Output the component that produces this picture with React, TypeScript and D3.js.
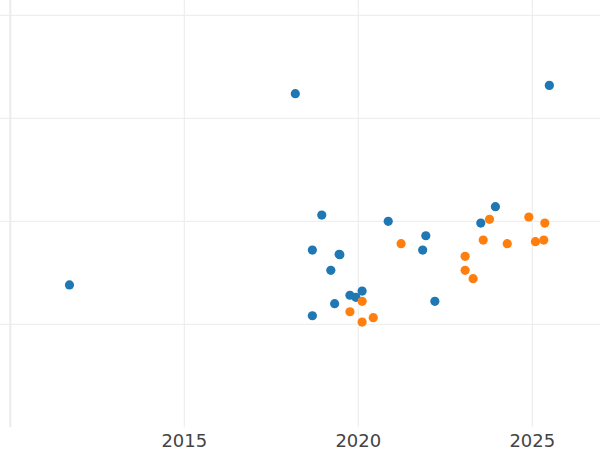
import React from "react";
import * as d3 from "d3";

const xTicks = [2010, 2015, 2020, 2025];
const xTickLabels = ["", "2015", "2020", "2025"];
const yTicks = [1, 2, 3, 4];

const blueX = [2011.70, 2018.19, 2025.49, 2018.95, 2018.68, 2019.45, 2019.47, 2019.21, 2018.68, 2019.32, 2019.76, 2019.93, 2020.11, 2020.86, 2021.94, 2021.85, 2022.20, 2023.52, 2023.94];
const blueY = [1.382, 3.239, 3.320, 2.061, 1.721, 1.680, 1.676, 1.524, 1.083, 1.200, 1.282, 1.262, 1.323, 2.000, 1.860, 1.721, 1.223, 1.983, 2.142];

const orangeX = [2021.23, 2019.76, 2020.11, 2020.11, 2020.43, 2023.07, 2023.07, 2023.30, 2023.59, 2023.77, 2024.28, 2024.90, 2025.36, 2025.09, 2025.33];
const orangeY = [1.783, 1.122, 1.223, 1.022, 1.064, 1.660, 1.524, 1.443, 1.818, 2.019, 1.783, 2.042, 1.983, 1.802, 1.818];

const W = 600;
const H = 450;

export default function App() {
  const x = d3.scaleLinear().domain([2010, 2027]).range([10.3, 10.3 + 17 * 34.8]);
  const y = d3.scaleLinear().domain([0, 4.149]).range([427.3, 0]);
  const plotBottom = y(0);

  const blue = blueX.map((v, i) => ({ x: v, y: blueY[i] }));
  const orange = orangeX.map((v, i) => ({ x: v, y: orangeY[i] }));

  return (
    <svg width={W} height={H} style={{ position: "absolute", left: 0, top: 0, background: "#fff" }}>
      {yTicks.map((t) => (
        <line key={"gy" + t} x1={0} x2={W} y1={y(t)} y2={y(t)} stroke="#ebebeb" strokeWidth={1} />
      ))}
      {xTicks.map((t) => (
        <line
          key={"gx" + t}
          x1={x(t)}
          x2={x(t)}
          y1={0}
          y2={plotBottom}
          stroke="#ebebeb"
          strokeWidth={t === 2010 ? 2 : 1}
        />
      ))}
      {blue.map((d, i) => (
        <circle key={"b" + i} cx={x(d.x)} cy={y(d.y)} r={4.6} fill="#1f77b4" />
      ))}
      {orange.map((d, i) => (
        <circle key={"o" + i} cx={x(d.x)} cy={y(d.y)} r={4.6} fill="#ff7f0e" />
      ))}
      {xTicks.map((t, i) => (
        <text
          key={"lx" + t}
          x={x(t)}
          y={447}
          textAnchor="middle"
          fontFamily="DejaVu Sans"
          fontSize={18}
          fill="#444"
        >
          {xTickLabels[i]}
        </text>
      ))}
    </svg>
  );
}
